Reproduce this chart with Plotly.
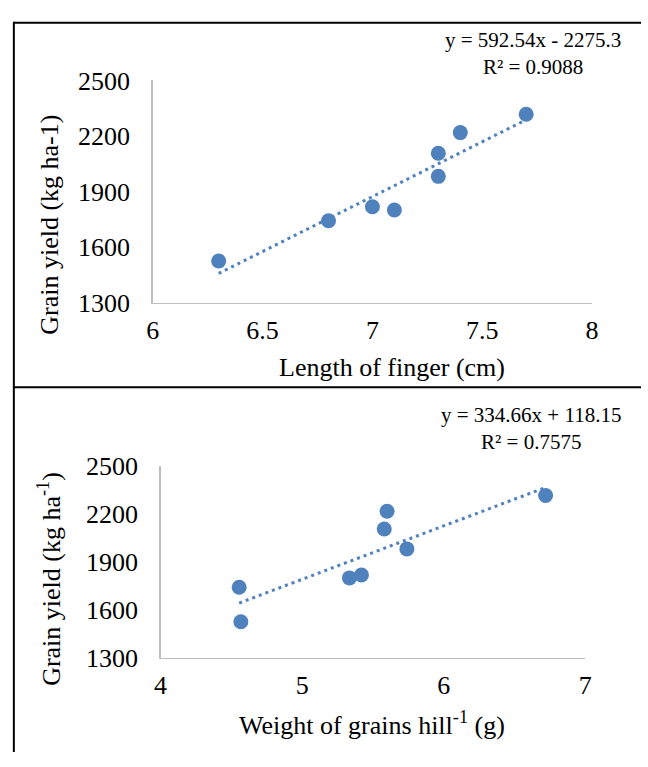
import plotly.graph_objects as go

# ---------------- data ----------------
finger_length = [6.3, 6.8, 7.0, 7.1, 7.3, 7.3, 7.4, 7.7]          # cm
grain_weight = [4.567, 4.555, 5.419, 5.334, 5.58, 5.74, 5.60, 6.72]  # g hill-1
grain_yield = [1525, 1742, 1818, 1800, 2107, 1982, 2218, 2317]       # kg ha-1

fit1_slope, fit1_intercept, fit1_r2 = 592.54, -2275.3, 0.9088
fit2_slope, fit2_intercept, fit2_r2 = 334.66, 118.15, 0.7575

x1_ticks = [6, 6.5, 7, 7.5, 8]
x2_ticks = [4, 5, 6, 7]
y_ticks = [1300, 1600, 1900, 2200, 2500]

eq1_text = "y = 592.54x - 2275.3<br>R² = 0.9088"
eq2_text = "y = 334.66x + 118.15<br>R² = 0.7575"
x1_title = "Length of finger (cm)"
x2_title = "Weight of grains hill<sup>-1</sup> (g)"
y1_title = "Grain yield (kg ha-1)"
y2_title = "Grain yield (kg ha<sup>-1</sup>)"

# ---------------- style ----------------
W, H = 648, 767
FONT = "Liberation Serif, Times New Roman, serif"
BLUE = "#4f81bd"
AXIS = "#bfbfbf"


def px(x):
    return x / W


def py(y):
    return 1 - y / H


fig = go.Figure()

# panel 1
fig.add_trace(go.Scatter(
    x=[min(finger_length), max(finger_length)],
    y=[fit1_slope * v + fit1_intercept for v in (min(finger_length), max(finger_length))],
    mode="lines", line=dict(color=BLUE, width=3, dash="3px,4px"),
    xaxis="x", yaxis="y", hoverinfo="skip", showlegend=False))
fig.add_trace(go.Scatter(
    x=finger_length, y=grain_yield, mode="markers",
    marker=dict(size=15, color=BLUE, line=dict(width=0)),
    xaxis="x", yaxis="y", showlegend=False))

# panel 2
fig.add_trace(go.Scatter(
    x=[min(grain_weight), max(grain_weight)],
    y=[fit2_slope * v + fit2_intercept for v in (min(grain_weight), max(grain_weight))],
    mode="lines", line=dict(color=BLUE, width=3, dash="3px,4px"),
    xaxis="x2", yaxis="y2", hoverinfo="skip", showlegend=False))
fig.add_trace(go.Scatter(
    x=grain_weight, y=grain_yield, mode="markers",
    marker=dict(size=15, color=BLUE, line=dict(width=0)),
    xaxis="x2", yaxis="y2", showlegend=False))

axis_common = dict(showline=True, linecolor=AXIS, linewidth=1.5, showgrid=False,
                   zeroline=False, ticks="", tickfont=dict(family=FONT, size=26, color="black"),
                   fixedrange=True)

fig.update_layout(
    width=W, height=H,
    margin=dict(l=0, r=0, t=0, b=0, pad=0),
    paper_bgcolor="white", plot_bgcolor="white",
    xaxis=dict(domain=[px(149), px(598)], range=[6, 8], tickvals=x1_ticks,
               ticktext=[f"{v:g}" for v in x1_ticks], anchor="y", ticklabelstandoff=4,
               **axis_common),
    yaxis=dict(domain=[py(300), py(69)], range=[1300, 2500], tickvals=y_ticks,
               anchor="x", ticklabelstandoff=16, **axis_common),
    xaxis2=dict(domain=[px(157), px(591)], range=[4, 7], tickvals=x2_ticks,
                anchor="y2", ticklabelstandoff=4, **axis_common),
    yaxis2=dict(domain=[py(669), py(470)], range=[1300, 2500], tickvals=y_ticks,
                anchor="x2", ticklabelstandoff=16, **axis_common),
)

ann_font = dict(family=FONT, size=26, color="black")
eq_font = dict(family=FONT, size=21, color="black")
annotations = [
    dict(text=eq1_text, x=px(538), y=py(41), font=eq_font, align="center"),
    dict(text=eq2_text, x=px(536), y=py(431), font=eq_font, align="center"),
    dict(text=x1_title, x=px(393), y=py(367), font=ann_font),
    dict(text=x2_title, x=px(373), y=py(737), font=ann_font),
    dict(text=y1_title, x=px(44), y=py(219), font=ann_font, textangle=-90),
    dict(text=y2_title, x=px(44), y=py(587), font=ann_font, textangle=-90),
]
for a in annotations:
    a.update(xref="paper", yref="paper", showarrow=False, xanchor="center", yanchor="middle")
fig.update_layout(annotations=annotations)

# frame lines
frame = dict(color="black", width=2)
fig.update_layout(shapes=[
    dict(type="line", xref="paper", yref="paper", x0=px(7), x1=1, y0=py(9), y1=py(9), line=frame),
    dict(type="line", xref="paper", yref="paper", x0=px(7), x1=1, y0=py(388), y1=py(388), line=frame),
    dict(type="line", xref="paper", yref="paper", x0=px(7), x1=px(7), y0=py(8), y1=0, line=frame),
])

fig.write_html("out.html", config={"displayModeBar": False, "staticPlot": True},
               post_script="document.body.style.margin='0';")
